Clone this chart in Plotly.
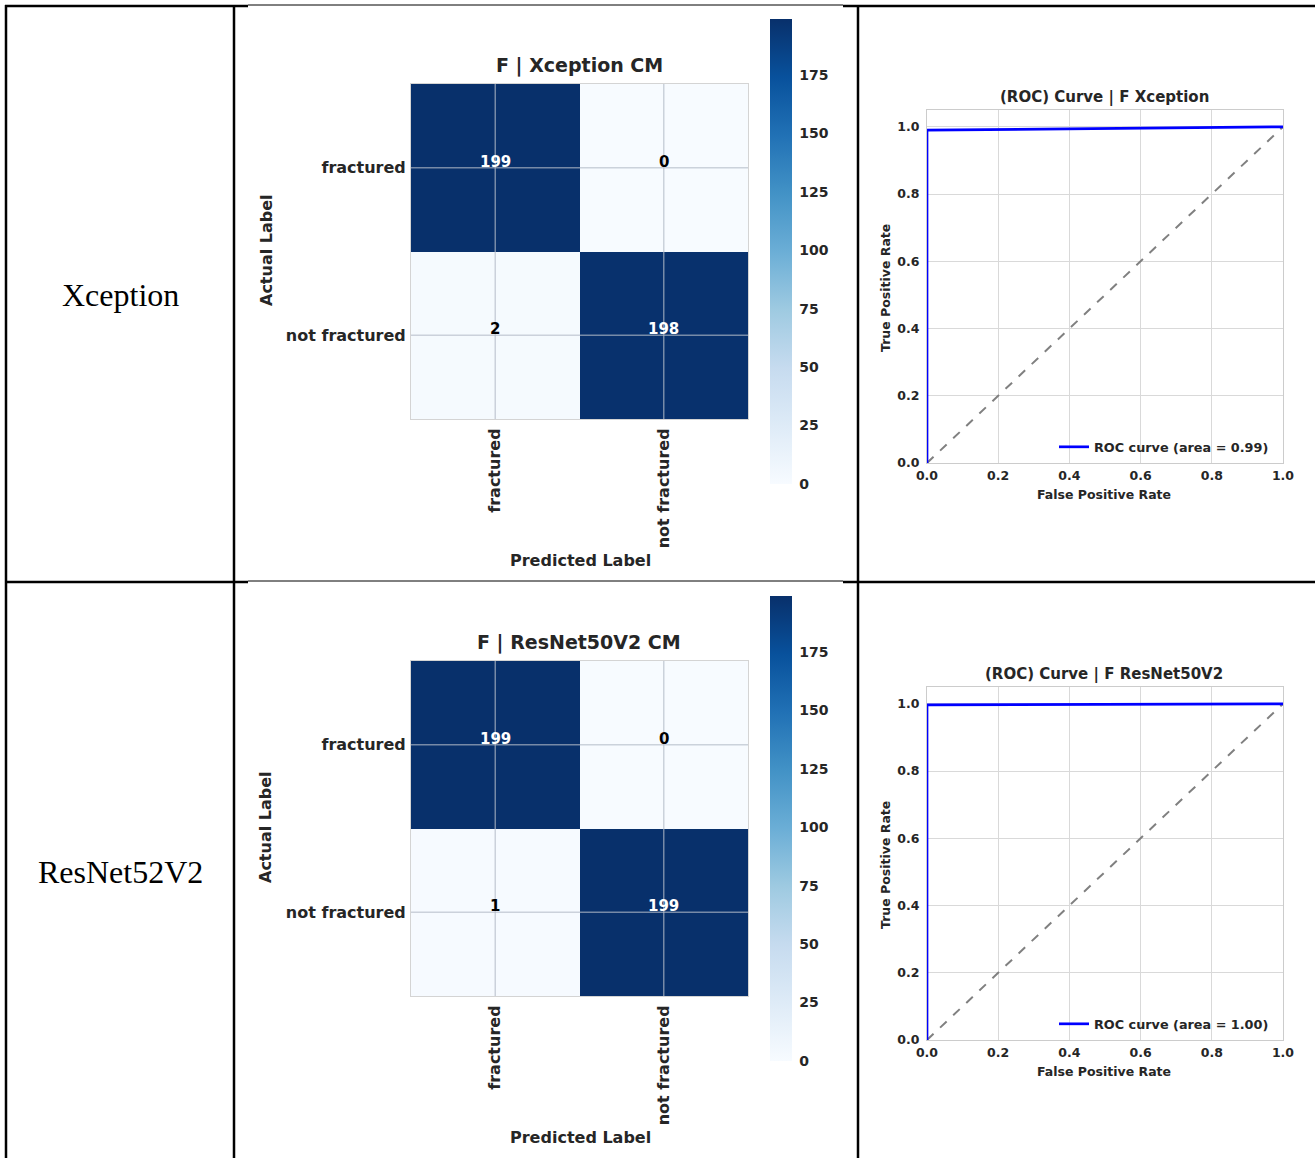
import plotly.graph_objects as go
from plotly.colors import sequential

# ---------------- data ----------------
categories = ["fractured", "not fractured"]
row_labels = ["Xception", "ResNet52V2"]
cm_titles = ["F | Xception CM", "F | ResNet50V2 CM"]
roc_titles = ["(ROC) Curve | F Xception", "(ROC) Curve | F ResNet50V2"]
cm_xception = [[199, 0], [2, 198]]
cm_resnet = [[199, 0], [1, 199]]
fpr_xception = [0.0, 0.0, 1.0]
tpr_xception = [0.0, 0.99, 1.0]
fpr_resnet = [0.0, 0.0, 1.0]
tpr_resnet = [0.0, 0.997, 1.0]
auc_values = ["0.99", "1.00"]
chance_line = [0.0, 1.0]
colorbar_ticks = [0, 25, 50, 75, 100, 125, 150, 175]
roc_ticks = [0.0, 0.2, 0.4, 0.6, 0.8, 1.0]

# ---------------- layout helpers ----------------
W, H = 1315, 1158
FONT = "DejaVu Sans"
TXT = "#262626"


def px(x):
    return x / W


def py(y):
    return 1 - y / H


def label(x, y, text, size, angle=0, family=FONT, bold=True, color=TXT):
    return dict(x=px(x), y=py(y), xref="paper", yref="paper", text=text,
                showarrow=False, textangle=angle, xanchor="center", yanchor="middle",
                font=dict(family=family, size=size, color=color,
                          weight="bold" if bold else "normal"))


fig = go.Figure()
annotations = []
shapes = []
layout_axes = {}

rows = [
    dict(cm=cm_xception, fpr=fpr_xception, tpr=tpr_xception, auc=auc_values[0], dy=0),
    dict(cm=cm_resnet, fpr=fpr_resnet, tpr=tpr_resnet, auc=auc_values[1], dy=577),
]

for i, r in enumerate(rows):
    dy = r["dy"]
    n_cm = 2 * i + 1
    n_roc = 2 * i + 2
    xa_cm = "x" if n_cm == 1 else f"x{n_cm}"
    ya_cm = "y" if n_cm == 1 else f"y{n_cm}"
    xa_roc = f"x{n_roc}"
    ya_roc = f"y{n_roc}"
    key_x_cm = "xaxis" if n_cm == 1 else f"xaxis{n_cm}"
    key_y_cm = "yaxis" if n_cm == 1 else f"yaxis{n_cm}"
    cm = r["cm"]
    zmax = max(max(row) for row in cm)

    # ---- confusion matrix heatmap ----
    fig.add_trace(go.Heatmap(
        z=cm, x=categories, y=categories,
        colorscale=sequential.Blues, zmin=0, zmax=zmax,
        xaxis=xa_cm, yaxis=ya_cm,
        colorbar=dict(
            x=px(770), xanchor="left", xpad=0,
            y=py(19 + dy), yanchor="top", ypad=0,
            len=465 / H, lenmode="fraction",
            thickness=22, thicknessmode="pixels",
            tickvals=colorbar_ticks, ticks="outside", ticklen=5,
            tickcolor="rgba(0,0,0,0)", outlinewidth=0,
            tickfont=dict(family=FONT, size=14, color=TXT, weight="bold"),
        ),
        hoverinfo="skip",
    ))
    layout_axes[key_x_cm] = dict(
        domain=[px(411), px(748)], anchor=ya_cm, type="category",
        showgrid=False, zeroline=False, ticks="", tickangle=-90,
        showline=True, mirror=True, linecolor="#d4d4d4", linewidth=1,
        tickfont=dict(family=FONT, size=16, color=TXT, weight="bold"),
        ticklabelstandoff=2, automargin=False,
    )
    layout_axes[key_y_cm] = dict(
        domain=[py(419 + dy), py(84 + dy)], anchor=xa_cm, type="category",
        autorange="reversed", showgrid=False, zeroline=False, ticks="",
        showline=True, mirror=True, linecolor="#d4d4d4", linewidth=1,
        tickfont=dict(family=FONT, size=16, color=TXT, weight="bold"),
        ticklabelstandoff=1, automargin=False,
    )
    # grid lines over the heatmap at category centers
    for k in range(len(categories)):
        shapes.append(dict(type="line", xref=xa_cm, yref=f"{ya_cm} domain",
                           x0=k, x1=k, y0=0, y1=1,
                           line=dict(color="rgba(180,188,200,0.65)", width=1.5)))
        shapes.append(dict(type="line", xref=f"{xa_cm} domain", yref=ya_cm,
                           x0=0, x1=1, y0=k, y1=k,
                           line=dict(color="rgba(180,188,200,0.65)", width=1.5)))
    # cell values
    for ri, row in enumerate(cm):
        for ci, v in enumerate(row):
            annotations.append(dict(
                x=categories[ci], y=categories[ri], xref=xa_cm, yref=ya_cm,
                text=str(v), showarrow=False, yshift=6,
                font=dict(family=FONT, size=15, weight="bold",
                          color="white" if v > zmax / 2 else "black"),
            ))
    # titles
    annotations.append(label(579, 65 + dy, cm_titles[i], 19))
    annotations.append(label(266, 250 + dy, "Actual Label", 16, angle=-90))
    annotations.append(label(580, 560 + dy, "Predicted Label", 16))

    # ---- ROC curve ----
    legend_name = "legend" if i == 0 else "legend2"
    fig.add_trace(go.Scatter(
        x=chance_line, y=chance_line, mode="lines",
        line=dict(color="gray", width=2, dash="dash"),
        xaxis=xa_roc, yaxis=ya_roc, showlegend=False, hoverinfo="skip",
    ))
    fig.add_trace(go.Scatter(
        x=r["fpr"], y=r["tpr"], mode="lines",
        line=dict(color="blue", width=2.7),
        name=f"ROC curve (area = {r['auc']})",
        xaxis=xa_roc, yaxis=ya_roc, legend=legend_name,
    ))
    layout_axes[f"xaxis{n_roc}"] = dict(
        domain=[px(927), px(1283)], anchor=ya_roc, range=[0, 1],
        tickvals=roc_ticks, tickformat=".1f", ticks="",
        showgrid=True, gridcolor="#d9d9d9", gridwidth=1, zeroline=False,
        showline=True, mirror=True, linecolor="#cccccc", linewidth=1,
        tickfont=dict(family=FONT, size=12.5, color=TXT, weight="bold"),
        ticklabelstandoff=1, automargin=False,
    )
    layout_axes[f"yaxis{n_roc}"] = dict(
        domain=[py(463 + dy), py(110 + dy)], anchor=xa_roc, range=[0, 1.05],
        tickvals=roc_ticks, tickformat=".1f", ticks="",
        showgrid=True, gridcolor="#d9d9d9", gridwidth=1, zeroline=False,
        showline=True, mirror=True, linecolor="#cccccc", linewidth=1,
        tickfont=dict(family=FONT, size=12.5, color=TXT, weight="bold"),
        ticklabelstandoff=4, automargin=False,
    )
    layout_axes[legend_name] = dict(
        x=px(1274), xanchor="right", y=py(447 + dy), yanchor="middle",
        bgcolor="rgba(0,0,0,0)", borderwidth=0,
        font=dict(family=FONT, size=12.8, color=TXT, weight="bold"),
        itemwidth=30,
    )
    annotations.append(label(1104, 97 + dy, roc_titles[i], 15))
    annotations.append(label(885, 288 + dy, "True Positive Rate", 12.5, angle=-90))
    annotations.append(label(1104, 494 + dy, "False Positive Rate", 12.5))

    # ---- row label (first table column) ----
    annotations.append(label(120, 295 + dy, row_labels[i], 32,
                             family="Liberation Serif", bold=False, color="black"))

# ---------------- table borders ----------------
for yline in (6, 582):
    shapes.append(dict(type="line", xref="paper", yref="paper",
                       x0=px(5), x1=px(248), y0=py(yline), y1=py(yline),
                       line=dict(color="black", width=2.5)))
    shapes.append(dict(type="line", xref="paper", yref="paper",
                       x0=px(248), x1=px(843), y0=py(yline - 1), y1=py(yline - 1),
                       line=dict(color="black", width=1)))
    shapes.append(dict(type="line", xref="paper", yref="paper",
                       x0=px(843), x1=px(1315), y0=py(yline), y1=py(yline),
                       line=dict(color="black", width=2.5)))
for xline in (6, 234, 858):
    shapes.append(dict(type="line", xref="paper", yref="paper",
                       x0=px(xline), x1=px(xline), y0=py(5), y1=0,
                       line=dict(color="black", width=2.5)))

fig.update_layout(
    width=W, height=H,
    margin=dict(l=0, r=0, t=0, b=0, pad=0, autoexpand=False),
    paper_bgcolor="white", plot_bgcolor="white",
    annotations=annotations, shapes=shapes,
    **layout_axes,
)

fig.write_html("out.html")
